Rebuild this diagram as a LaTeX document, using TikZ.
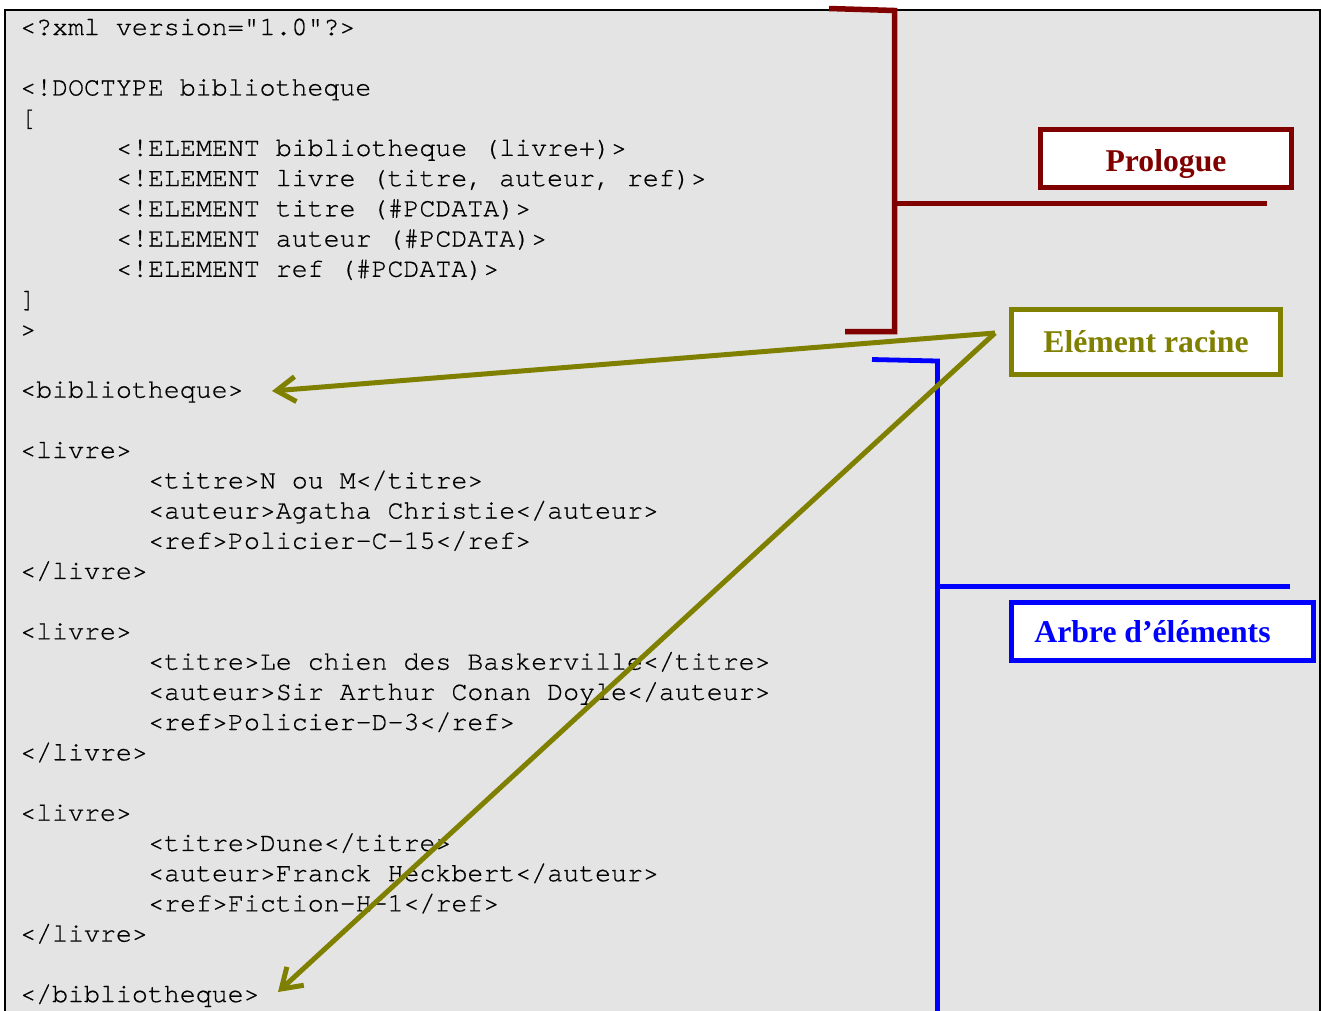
\documentclass[tikz,border=0pt]{standalone}
\usepackage{fontspec}
\usetikzlibrary{arrows.meta}
\newfontfamily\codefont{texgyrecursor-regular.otf}[FakeBold=0.6]
\newfontfamily\labelfont{Liberation Serif}[Ligatures=TeX]
\definecolor{paper}{RGB}{228,228,228}
\definecolor{prored}{RGB}{128,0,0}
\definecolor{rootolive}{RGB}{128,128,0}
\definecolor{treeblue}{RGB}{0,0,255}
% one line of the XML listing: name, x, line number, text
\newcommand\codeline[4]{\node[code] (#1) at (#2,{35+(#3-1)*30.22}) {#4};}
\begin{document}
\begin{tikzpicture}[x=1pt,y=-1pt,
  code/.style={anchor=base west, inner sep=0pt, font=\codefont\fontsize{26.6}{26.6}\selectfont},
  tagbox/.style={draw, fill=white, line width=5pt, inner sep=0pt,
    font=\labelfont\bfseries\fontsize{31.7}{32}\selectfont},
  brace/.style={line width=5.5pt},
  pointer/.style={draw=rootolive, line width=5pt, -{Straight Barb[length=19pt,width=25pt]}}]
\useasboundingbox (0,0) rectangle (1321,1010);

% shaded listing area
\fill[paper] (4.5,10) rectangle (1319.7,1015);
\draw[line width=2pt] (4.5,1015) -- (4.5,10) -- (1319.7,10) -- (1319.7,1015);

% prologue
\codeline{xmldecl}{20}{1}{<?xml version="1.0"?>}
\codeline{doctype}{20}{3}{<!DOCTYPE bibliotheque}
\codeline{dtdopen}{20}{4}{[}
\codeline{elbib}{116}{5}{<!ELEMENT bibliotheque (livre+)>}
\codeline{ellivre}{116}{6}{<!ELEMENT livre (titre, auteur, ref)>}
\codeline{eltitre}{116}{7}{<!ELEMENT titre (\#PCDATA)>}
\codeline{elauteur}{116}{8}{<!ELEMENT auteur (\#PCDATA)>}
\codeline{elref}{116}{9}{<!ELEMENT ref (\#PCDATA)>}
\codeline{dtdclose}{20}{10}{]}
\codeline{dtdend}{20}{11}{>}

% element tree
\codeline{bibopen}{20}{13}{<bibliotheque>}
\codeline{livreA}{20}{15}{<livre>}
\codeline{titreA}{148}{16}{<titre>N ou M</titre>}
\codeline{auteurA}{148}{17}{<auteur>Agatha Christie</auteur>}
\codeline{refA}{148}{18}{<ref>Policier-C-15</ref>}
\codeline{livreAend}{20}{19}{</livre>}
\codeline{livreB}{20}{21}{<livre>}
\codeline{titreB}{148}{22}{<titre>Le chien des Baskerville</titre>}
\codeline{auteurB}{148}{23}{<auteur>Sir Arthur Conan Doyle</auteur>}
\codeline{refB}{148}{24}{<ref>Policier-D-3</ref>}
\codeline{livreBend}{20}{25}{</livre>}
\codeline{livreC}{20}{27}{<livre>}
\codeline{titreC}{148}{28}{<titre>Dune</titre>}
\codeline{auteurC}{148}{29}{<auteur>Franck Heckbert</auteur>}
\codeline{refC}{148}{30}{<ref>Fiction-H-1</ref>}
\codeline{livreCend}{20}{31}{</livre>}
\codeline{bibclose}{20}{33}{</bibliotheque>}

% captions
\node[tagbox, draw=prored, text=prored, minimum width=251pt, minimum height=58pt,
  text height=28pt, text depth=2pt] (prologue) at (1166,158.5) {Prologue};
\node[tagbox, draw=rootolive, text=rootolive, minimum width=269pt, minimum height=65pt,
  text height=24pt, text depth=4pt] (racine) at (1146,342) {Elément racine};
\node[tagbox, draw=treeblue, text=treeblue, minimum width=302pt, minimum height=58pt,
  text height=24pt, text depth=3pt] (arbre) at (1162.5,631.5) {Arbre d’éléments\hspace*{20pt}};

% prologue bracket
\coordinate (proTop) at (829,8.5);
\coordinate (proCorner) at (894.5,10.5);
\coordinate (proBottom) at (894.5,331.5);
\coordinate (proFoot) at (845,331.5);
\coordinate (proJoin) at (894.5,203.5);
\coordinate (proTail) at (1267,203.5);
\draw[brace, prored] (proTop) -- (proCorner) -- (proBottom) -- (proFoot);
\draw[brace, prored] (proJoin) -- (proTail);

% element-tree bracket
\coordinate (treeTop) at (872,359.5);
\coordinate (treeCorner) at (937.5,361);
\coordinate (treeBottom) at (937.5,1015);
\coordinate (treeJoin) at (937.5,586.7);
\coordinate (treeTail) at (1290,586.7);
\draw[brace, line width=4.8pt, treeblue] (treeTop) -- (treeCorner) -- (treeBottom);
\draw[brace, line width=4.8pt, treeblue] (treeJoin) -- (treeTail);

% root element pointers
\coordinate (rootFrom) at (995,333);
\coordinate (rootOpen) at (272,391);
\coordinate (rootClose) at (278,992);
\draw[pointer] (rootFrom) -- (rootOpen);
\draw[pointer] (rootFrom) -- (rootClose);
\end{tikzpicture}
\end{document}
